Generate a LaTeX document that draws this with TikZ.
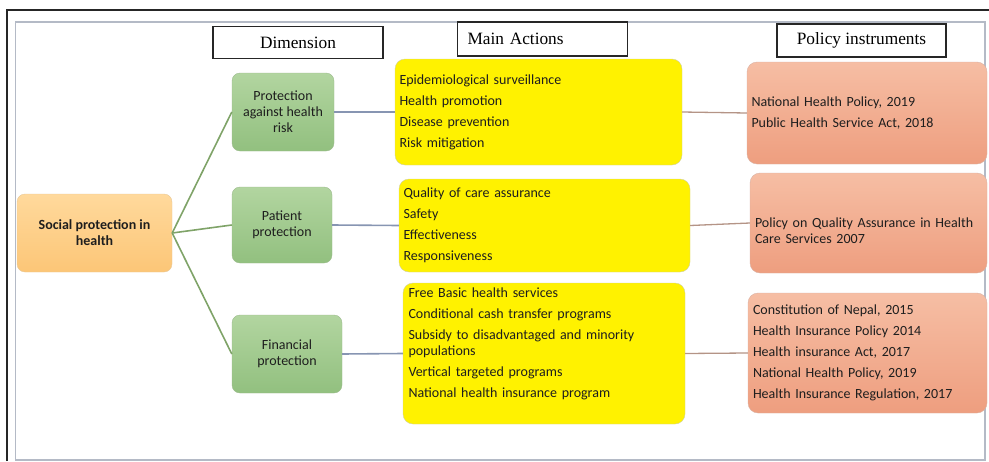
\documentclass[tikz,border=0pt]{standalone}
\usepackage{fontspec}
\setmainfont{Carlito}
\newfontfamily\headfont{Liberation Serif}
\usetikzlibrary{positioning}
\definecolor{txt}{HTML}{1E1E1E}
\definecolor{greentop}{HTML}{B2D5A0}
\definecolor{greenbot}{HTML}{92C07F}
\definecolor{greenedge}{HTML}{9DBB8E}
\definecolor{orangetop}{HTML}{FFD99C}
\definecolor{orangebot}{HTML}{FCC677}
\definecolor{orangeedge}{HTML}{E8C898}
\definecolor{yellowedge}{HTML}{CFCFA0}
\definecolor{salmontop}{HTML}{F6BEA4}
\definecolor{salmonbot}{HTML}{EE9E7F}
\definecolor{salmonedge}{HTML}{D9B2A4}
\definecolor{rootline}{HTML}{7FA368}
\definecolor{dimline}{HTML}{8795B2}
\definecolor{actline}{HTML}{B49486}
\definecolor{framegray}{HTML}{B4BAC6}
\tikzstyle{head} = [rectangle, minimum width=170pt, minimum height=32pt, draw=black!85, line width=1.2pt, fill=white, font=\headfont\fontsize{17.3}{19}\selectfont]
\tikzstyle{root} = [rectangle, rounded corners=8pt, minimum width=155pt, minimum height=78pt, draw=orangeedge, top color=orangetop, bottom color=orangebot, align=center, text=txt, font=\bfseries\fontsize{14}{16}\selectfont]
\tikzstyle{dimension} = [rectangle, rounded corners=8pt, minimum height=78pt, draw=greenedge, top color=greentop, bottom color=greenbot, align=center, text=txt, font=\fontsize{14}{16}\selectfont]
\tikzstyle{action} = [rectangle, rounded corners=10pt, draw=yellowedge, fill=yellow, align=left, inner xsep=4.5pt, text=txt, font=\fontsize{14}{16}\selectfont]
\tikzstyle{policy} = [rectangle, rounded corners=10pt, draw=salmonedge, top color=salmontop, bottom color=salmonbot, align=left, inner xsep=4.5pt, text=txt, font=\fontsize{14}{16}\selectfont]
\tikzstyle{rootlink} = [line width=1.6pt, draw=rootline]
\tikzstyle{dimlink} = [line width=1.6pt, draw=dimline]
\tikzstyle{actlink} = [line width=1.3pt, draw=actline]

\begin{document}
\begin{tikzpicture}[x=1pt, y=-1pt]
    \useasboundingbox (0,0) rectangle (989,461);
    \draw [line width=1.5pt, black!85] (7,461) -- (7,10) -- (989,10);
    \draw [line width=1.6pt, framegray] (15.5,460) -- (15.5,22) -- (985,22) -- (985,460) -- cycle;

    \node (dimhead) [head] at (298,42.5) {Dimension};
    \node (acthead) [head, align=left, text width=150pt, inner xsep=10pt, minimum height=34pt] at (542.5,39) {Main Actions};
    \node (polhead) [head, minimum width=169pt, minimum height=33pt] at (861.5,40.5) {Policy instruments};

    \node (social) [root] at (94.5,233) {Social protection in\\health};

    \node (riskdim) [dimension, minimum width=102pt] at (283,112) {Protection\\against health\\risk};
    \node (patientdim) [dimension, minimum width=100pt, minimum height=76pt] at (282,225) {Patient\\protection};
    \node (financedim) [dimension, minimum width=110pt] at (287,354) {Financial\\protection};

    \node (riskact) [action, text width=278pt, minimum height=106pt] at (538.5,112) {Epidemiological surveillance\\[5pt]Health promotion\\[5pt]Disease prevention\\[5pt]Risk mitigation};
    \node (patientact) [action, text width=282pt, minimum height=93pt] at (544.5,225.5) {Quality of care assurance\\[5pt]Safety\\[5pt]Effectiveness\\[5pt]Responsiveness};
    \node (financeact) [action, text width=271pt, minimum height=141pt, inner xsep=5.5pt] at (544,353.5) {Free Basic health services\\[5pt]Conditional cash transfer programs\\[5pt]Subsidy to disadvantaged and minority\\populations\\[5pt]Vertical targeted programs\\[5pt]National health insurance program\rule[-22pt]{0pt}{0pt}};

    \node (riskpol) [policy, text width=231pt, minimum height=102pt] at (867,113) {National Health Policy, 2019\\[5pt]Public Health Service Act, 2018};
    \node (patientpol) [policy, text width=227pt, minimum height=100pt, inner xsep=5pt] at (868.5,223) {\rule{0pt}{26pt}Policy on Quality Assurance in Health\\Care Services 2007};
    \node (financepol) [policy, text width=229pt, minimum height=120pt, inner xsep=5pt] at (867.5,353) {Constitution of Nepal, 2015\\[5pt]Health Insurance Policy 2014\\[5pt]Health insurance Act, 2017\\[5pt]National Health Policy, 2019\\[5pt]Health Insurance Regulation, 2017};

    \draw [rootlink] (social.east) -- (riskdim.west);
    \draw [rootlink] (social.east) -- (patientdim.west);
    \draw [rootlink] (social.east) -- (financedim.west);
    \draw [dimlink] (riskdim.east) -- (riskact.west);
    \draw [dimlink] (patientdim.east) -- (patientact.west);
    \draw [dimlink] (financedim.east) -- (financeact.west);
    \draw [actlink] (riskact.east) -- (riskpol.west);
    \draw [actlink] (patientact.east) -- (patientpol.west);
    \draw [actlink] (financeact.east) -- (financepol.west);
\end{tikzpicture}
\end{document}
